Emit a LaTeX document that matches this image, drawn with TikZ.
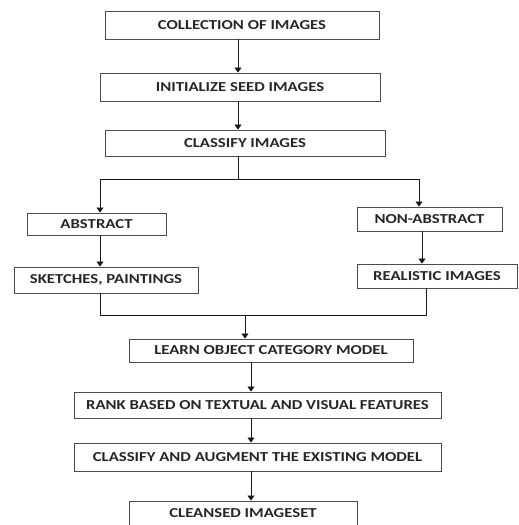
\documentclass[tikz,border=0pt]{standalone}
\usepackage{fontspec}
\setmainfont{Carlito}[FakeStretch=1.22]
\usetikzlibrary{arrows.meta}
\begin{document}
\begin{tikzpicture}[x=1pt,y=-1pt,
  box/.style={draw=black!70, line width=0.9pt, inner sep=0pt, text=black!85,
    font=\fontsize{13.7}{14}\selectfont\bfseries},
  arr/.style={-{Triangle[length=5pt,width=7pt]}, line width=0.8pt, draw=black!90},
  ln/.style={line width=0.8pt, draw=black!90}]
\useasboundingbox (0,0) rectangle (519,525);
% columns and rows for connectors
\coordinate (cA) at (238,0);
\coordinate (cL) at (100,0);
\coordinate (cR) at (419,0);
\coordinate (cR2) at (422,0);
\coordinate (cR3) at (426,0);
\coordinate (cM) at (245,0);
\coordinate (cB) at (251,0);
\coordinate (br) at (0,179);
\coordinate (mg) at (0,315);
% boxes
\node[box, minimum width=274pt, minimum height=28pt] (b1) at (242,25) {COLLECTION OF IMAGES};
\node[box, minimum width=280pt, minimum height=28pt] (b2) at (240,87) {INITIALIZE SEED IMAGES};
\node[box, minimum width=280pt, minimum height=26pt] (b3) at (245,143) {CLASSIFY IMAGES};
\node[box, minimum width=139pt, minimum height=22pt] (abs) at (96.5,224) {ABSTRACT};
\node[box, minimum width=145pt, minimum height=24pt] (nabs) at (429.5,219) {NON-ABSTRACT};
\node[box, minimum width=184pt, minimum height=26pt] (sk) at (106,280) {SKETCHES, PAINTINGS};
\node[box, minimum width=160pt, minimum height=24pt] (real) at (437,276) {REALISTIC IMAGES};
\node[box, minimum width=284pt, minimum height=23pt] (learn) at (271,350.5) {LEARN OBJECT CATEGORY MODEL};
\node[box, minimum width=367pt, minimum height=26pt] (rank) at (257.5,405) {RANK BASED ON TEXTUAL AND VISUAL FEATURES};
\node[box, minimum width=367pt, minimum height=28pt] (aug) at (257.5,457) {CLASSIFY AND AUGMENT THE EXISTING MODEL};
\node[box, minimum width=228pt, minimum height=25pt] (clean) at (243,513.5) {CLEANSED IMAGESET};
% connectors
\draw[arr] (b1.south -| cA) -- (b2.north -| cA);
\draw[arr] (b2.south -| cA) -- (b3.north -| cA);
\draw[ln] (b3.south -| cA) -- (cA |- br);
\draw[arr] (cA |- br) -| (abs.north -| cL);
\draw[arr] (cA |- br) -| (nabs.north -| cR);
\draw[arr] (abs.south -| cL) -- (sk.north -| cL);
\draw[arr] (nabs.south -| cR2) -- (real.north -| cR2);
\draw[ln] (sk.south -| cL) |- (cM |- mg);
\draw[ln] (real.south -| cR3) |- (cM |- mg);
\draw[arr] (cM |- mg) -- (learn.north -| cM);
\draw[arr] (learn.south -| cB) -- (rank.north -| cB);
\draw[arr] (rank.south -| cB) -- (aug.north -| cB);
\draw[arr] (aug.south -| cB) -- (clean.north -| cB);
\end{tikzpicture}
\end{document}
